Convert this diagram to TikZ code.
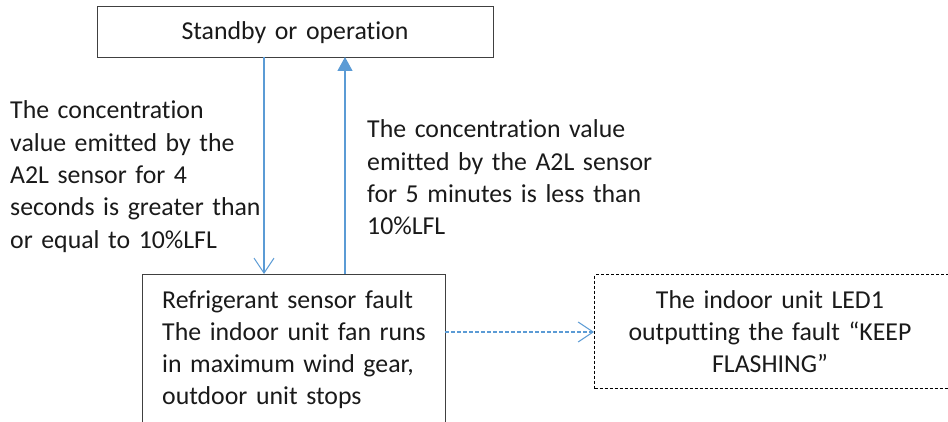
\documentclass[tikz,border=0pt]{standalone}
\usepackage{fontspec}
\setmainfont[Ligatures=NoCommon]{Carlito}
\usetikzlibrary{arrows.meta}
\definecolor{arrowblue}{HTML}{5B9BD5}
\definecolor{boxline}{HTML}{404040}
\definecolor{txt}{HTML}{1A1A1A}
\tikzset{
  box/.style={draw=boxline, line width=1.3pt},
  dbox/.style={draw=black, line width=1.1pt, dash pattern=on 3pt off 2pt},
  lbl/.style={inner sep=0pt, anchor=base west, align=left, text=txt, font=\fontsize{25.8}{32.3}\selectfont},
  ctr/.style={inner sep=0pt, anchor=base, align=center, text=txt, font=\fontsize{25.8}{32.3}\selectfont},
  barb/.style={-{Straight Barb[length=15pt,width=20pt,line width=1pt]}},
  link/.style={draw=arrowblue, line width=1.2pt},
}
\begin{document}
\begin{tikzpicture}[x=1pt,y=-1pt]
\useasboundingbox (0,0) rectangle (948,422);
\fill[white] (0,0) rectangle (948,422);
% boxes
\node[box, minimum width=396pt, minimum height=51pt, anchor=north west, inner sep=0pt] (top) at (97,6) {};
\node[ctr, text width=380pt] (toptxt) at (295,40) {Standby or operation};
\node[box, minimum width=303pt, minimum height=160pt, anchor=north west, inner sep=0pt] (fault) at (142,274) {};
\node[lbl, text width=290pt] (faulttxt) at (162,308) {Refrigerant sensor fault\\The indoor unit fan runs\\in maximum wind gear,\\outdoor unit stops};
\node[dbox, minimum width=370pt, minimum height=114pt, anchor=north west, inner sep=0pt] (led) at (594,274) {};
\node[ctr, text width=340pt] (ledtxt) at (770,308) {The indoor unit LED1\\outputting the fault “KEEP\\FLASHING”};
% labels
\node[lbl, text width=260pt] (lbldown) at (10,119) {The concentration\\value emitted by the\\A2L sensor for 4\\seconds is greater than\\or equal to 10\%LFL};
\node[lbl, text width=300pt] (lblup) at (367,138) {The concentration value\\emitted by the A2L sensor\\for 5 minutes is less than\\10\%LFL};
% connectors
\coordinate (d1) at (264,57);
\coordinate (d2) at (264,274);
\coordinate (u1) at (345,274);
\coordinate (u2) at (345,57);
\draw[link, barb] (d1) -- (d2);
\draw[link, -{Triangle[length=14pt,width=15pt]}] (u1) -- (u2);
\coordinate (r1) at (445,332);
\coordinate (r2) at (594,332);
\draw[link, barb, dash pattern=on 4pt off 2pt] (r1) -- (r2);
\end{tikzpicture}
\end{document}
